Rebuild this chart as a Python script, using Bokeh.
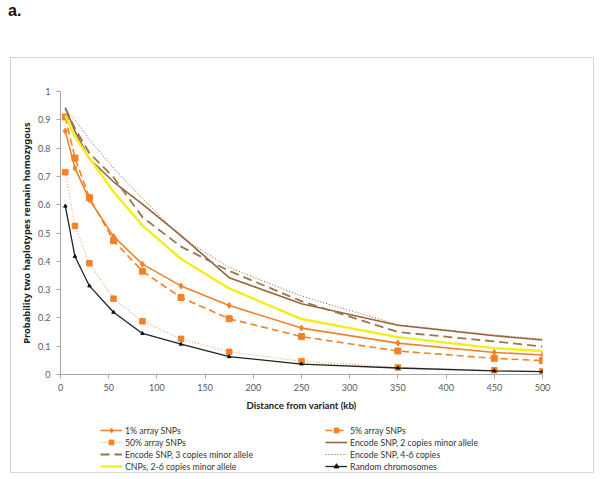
from bokeh.plotting import figure
from bokeh.models import Div, Legend, LegendItem, Range1d, FixedTicker, NumeralTickFormatter
from bokeh.layouts import column
from bokeh.embed import file_html
from bokeh.resources import INLINE

distance_kb = [5, 15, 30, 55, 85, 125, 175, 250, 350, 450, 500]

snp1 = [0.86, 0.729, 0.618, 0.488, 0.39, 0.313, 0.244, 0.164, 0.111, 0.078, 0.069]
snp5 = [0.91, 0.765, 0.625, 0.473, 0.365, 0.272, 0.197, 0.134, 0.083, 0.057, 0.049]
snp50 = [0.715, 0.525, 0.393, 0.268, 0.188, 0.126, 0.080, 0.047, 0.025, 0.015, 0.012]
enc2 = [0.943, 0.86, 0.762, 0.681, 0.602, 0.491, 0.342, 0.25, 0.174, 0.137, 0.122]
enc3 = [0.94, 0.87, 0.782, 0.697, 0.556, 0.452, 0.366, 0.259, 0.15, 0.117, 0.099]
enc46 = [0.937, 0.90, 0.83, 0.729, 0.622, 0.485, 0.378, 0.277, 0.176, 0.14, 0.125]
cnps = [0.916, 0.84, 0.765, 0.646, 0.527, 0.408, 0.304, 0.196, 0.132, 0.093, 0.083]
randchr = [0.595, 0.417, 0.313, 0.22, 0.145, 0.107, 0.063, 0.037, 0.023, 0.013, 0.010]

x_ticks = [0, 50, 100, 150, 200, 250, 300, 350, 400, 450, 500]
y_ticks = [0, 0.1, 0.2, 0.3, 0.4, 0.5, 0.6, 0.7, 0.8, 0.9, 1.0]

labels = ["1% array SNPs", "5% array SNPs", "50% array SNPs",
          "Encode SNP, 2 copies minor allele", "Encode SNP, 3 copies minor allele",
          "Encode SNP, 4-6 copies", "CNPs, 2-6 copies minor allele", "Random chromosomes"]

FONT = "Lato"
TITLE_FONT = "Noto Sans"
ORANGE = "#F28228"
LIGHT_ORANGE = "#F5A25E"
BROWN = "#94673D"
BROWN_DASH = "#9A7650"
BROWN_DOT = "#A0522D"
YELLOW = "#F2EE1A"
BLACK = "#222222"

series = [snp1, snp5, snp50, enc2, enc3, enc46, cnps, randchr]


def draw(fig, xs, ys):
    out = []
    out.append([fig.line(xs, ys[0], line_color=ORANGE, line_width=1.6),
                fig.scatter(xs, ys[0], marker="diamond", size=6, color=ORANGE)])
    out.append([fig.line(xs, ys[1], line_color=ORANGE, line_width=1.6, line_dash="7 4"),
                fig.scatter(xs, ys[1], marker="square", size=6, color=ORANGE)])
    out.append([fig.line(xs, ys[2], line_color=LIGHT_ORANGE, line_width=1.1, line_dash="1 2"),
                fig.scatter(xs, ys[2], marker="square", size=5.5, color=ORANGE)])
    out.append([fig.line(xs, ys[3], line_color=BROWN, line_width=1.6)])
    out.append([fig.line(xs, ys[4], line_color=BROWN_DASH, line_width=1.8, line_dash="9 5")])
    out.append([fig.line(xs, ys[5], line_color=BROWN_DOT, line_width=1.0, line_dash="1 2")])
    out.append([fig.line(xs, ys[6], line_color=YELLOW, line_width=2.4)])
    out.append([fig.line(xs, ys[7], line_color=BLACK, line_width=1.3),
                fig.scatter(xs, ys[7], marker="triangle", size=3.5, color="#111111")])
    return out


# ---- main chart ----
p = figure(width=582, height=358, output_backend="svg", toolbar_location=None,
           x_range=Range1d(0, 500), y_range=Range1d(0, 1),
           min_border_left=49, min_border_right=51, min_border_top=33, min_border_bottom=42)
p.outline_line_color = None
p.xgrid.visible = False
p.ygrid.visible = False
draw(p, distance_kb, series)

for ax in (p.xaxis[0], p.yaxis[0]):
    ax.axis_line_color = "#a6a6a6"
    ax.major_tick_line_color = "#a6a6a6"
    ax.major_tick_out = 4
    ax.major_tick_in = 0
    ax.minor_tick_line_color = None
    ax.major_label_text_font = FONT
    ax.major_label_text_font_size = "9px"
    ax.major_label_text_color = "#595959"
    ax.axis_label_text_font_style = "bold"
    ax.axis_label_text_color = "#222222"

p.xaxis.ticker = FixedTicker(ticks=x_ticks)
p.yaxis.ticker = FixedTicker(ticks=y_ticks)
p.yaxis.formatter = NumeralTickFormatter(format="0.[0]")
p.xaxis.axis_label = "Distance from variant (kb)"
p.yaxis.axis_label = "Probability two haplotypes remain homozygous"
p.xaxis.axis_label_text_font = FONT
p.yaxis.axis_label_text_font = TITLE_FONT
p.xaxis.axis_label_text_font_size = "9.6px"
p.yaxis.axis_label_text_font_size = "9.3px"
p.xaxis.major_label_standoff = 5
p.xaxis.axis_label_standoff = 6
p.yaxis.major_label_standoff = 6
p.yaxis.axis_label_standoff = 2

# ---- legend strip: same series, drawn outside its visible range ----
lg = figure(width=582, height=56, output_backend="svg", toolbar_location=None,
            x_range=Range1d(1000, 1001), y_range=Range1d(0, 1),
            x_axis_location=None, y_axis_location=None,
            min_border_left=0, min_border_right=0, min_border_top=0, min_border_bottom=0)
lg.outline_line_color = None
lg.xgrid.visible = False
lg.ygrid.visible = False
legend_renderers = draw(lg, distance_kb, series)

items = [LegendItem(label=lab, renderers=rs) for lab, rs in zip(labels, legend_renderers)]
legend = Legend(items=items, orientation="horizontal", ncols=2, location=(40, 0),
                label_text_font=FONT, label_text_font_size="8.7px", label_text_color="#333333",
                glyph_width=22, glyph_height=12, label_height=12, label_width=200,
                label_standoff=3, spacing=0, padding=0, margin=0,
                border_line_color=None, background_fill_alpha=0)
lg.add_layout(legend, "center")

box = column(p, lg, spacing=0)
box.margin = (0, 0, 0, 10)
box.styles = {"border": "1.5px solid #d4d4d4"}

title = Div(text="a.", width=600, height=57,
            styles={"font-family": "Liberation Sans", "font-weight": "bold",
                    "font-size": "16px", "color": "#111", "padding-left": "8px",
                    "padding-top": "0px", "margin": "0"})

layout = column(title, box, spacing=0)
open("out.html", "w").write(file_html(layout, INLINE))
